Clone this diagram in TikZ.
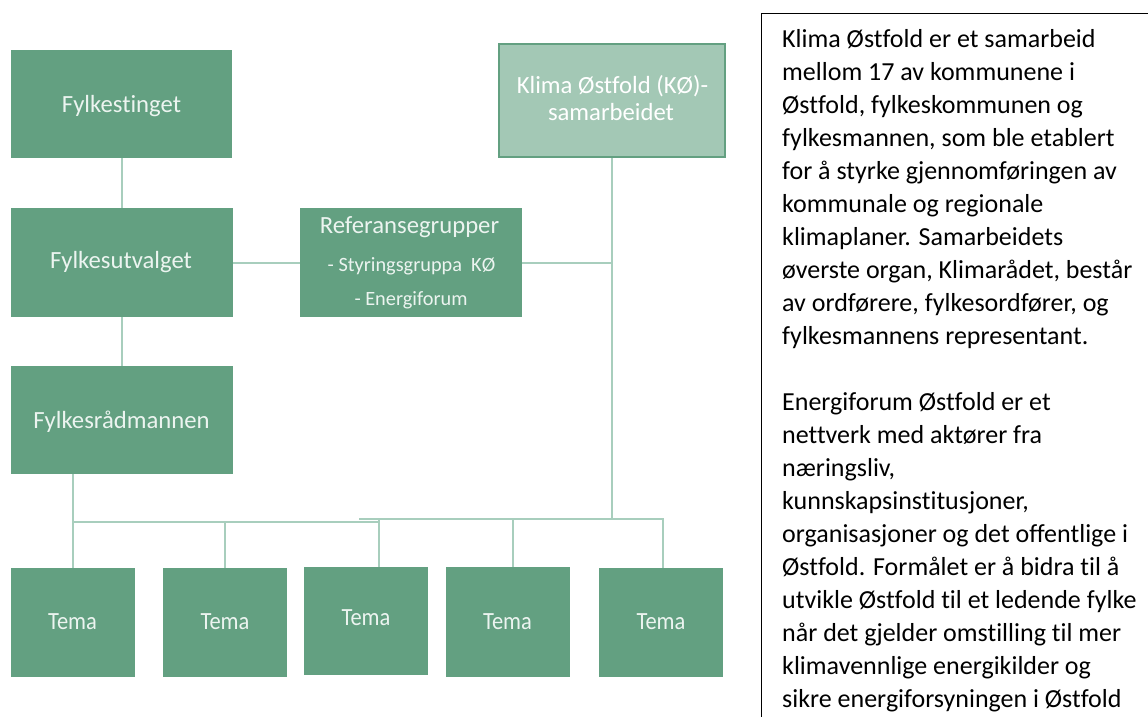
\documentclass[tikz,border=0pt]{standalone}
\usepackage{fontspec}
\setmainfont{Carlito}[Ligatures=NoCommon]
\usetikzlibrary{backgrounds}
\definecolor{boxg}{RGB}{99,160,129}
\definecolor{lightg}{RGB}{163,200,181}
\definecolor{lineg}{RGB}{168,206,189}
\definecolor{txtw}{RGB}{236,244,240}
\begin{document}
\begin{tikzpicture}[x=1pt,y=-1pt,
  box/.style={fill=boxg, draw=none, inner sep=0pt, outer sep=0pt},
  lbl/.style={text=txtw, inner sep=0pt, anchor=base, font=\fontsize{24.7}{27}\selectfont},
  sublbl/.style={lbl, font=\fontsize{20.3}{22}\selectfont},
  temalbl/.style={lbl, font=\fontsize{24.7}{27}\selectfont},
  conn/.style={draw=lineg, line width=2pt, line cap=rect}]
\useasboundingbox (0,0) rectangle (1148,716);
% left column
\node[box, minimum width=221, minimum height=108] (ft) at (121.5,104) {};
\node[lbl] (ftt) at (121.5,112) {Fylkestinget};
\node[box, minimum width=222, minimum height=109] (fu) at (122,262.5) {};
\node[lbl] (fut) at (121,268) {Fylkesutvalget};
\node[box, minimum width=222, minimum height=108] (fr) at (122,420) {};
\node[lbl] (frt) at (121.5,428) {Fylkesrådmannen};
% reference groups
\node[box, minimum width=222, minimum height=109] (ref) at (411,262.5) {};
\node[lbl] (reft) at (409.5,233) {Referansegrupper};
\node[sublbl] (ref2) at (411.5,271) {- Styringsgruppa\ \ KØ};
\node[sublbl] (ref3) at (411,305) {- Energiforum};
% Klima Østfold
\node[fill=lightg, draw=boxg, line width=2pt, inner sep=0pt, minimum width=226, minimum height=113] (kl) at (612,100.5) {};
\node[lbl, text=white] (klt1) at (612.5,93) {Klima Østfold (KØ)-};
\node[lbl, text=white] (klt2) at (611,120) {samarbeidet};
% Tema boxes
\node[box, minimum width=124, minimum height=109] (t1) at (72.5,622.5) {};
\node[temalbl] (t1t) at (72.5,629) {\scalebox{0.91}[1]{Tema}};
\node[box, minimum width=124, minimum height=109] (t2) at (225,622.5) {};
\node[temalbl] (t2t) at (225,629) {\scalebox{0.91}[1]{Tema}};
\node[box, minimum width=124, minimum height=108] (t3) at (366,621) {};
\node[temalbl] (t3t) at (366,625) {\scalebox{0.91}[1]{Tema}};
\node[box, minimum width=124, minimum height=110] (t4) at (507.5,622) {};
\node[temalbl] (t4t) at (507.5,629) {\scalebox{0.91}[1]{Tema}};
\node[box, minimum width=124, minimum height=109] (t5) at (661,622.5) {};
\node[temalbl] (t5t) at (661,629) {\scalebox{0.91}[1]{Tema}};
% bus coordinates
\coordinate (busA) at (72.5,522);
\coordinate (busB) at (360,519);
\coordinate (d3) at ([xshift=13pt]t3.north);
\coordinate (d4) at ([xshift=5.5pt]t4.north);
\coordinate (d5) at ([xshift=2pt]t5.north);
\begin{scope}[on background layer]
\fill[white] (0,0) rectangle (1148,716);
\draw[conn] (ft.south) -- (ft.south |- fu.north);
\draw[conn] (fu.south) -- (fu.south |- fr.north);
\draw[conn] (fu.east) -- (ref.west);
\draw[conn] (ref.east) -- (ref.east -| kl.south);
\draw[conn] (kl.south) -- (kl.south |- busB);
\draw[conn] (t1.north |- fr.south) -- (t1.north);
\draw[conn] (busA) -- (d3 |- busA);
\draw[conn] (t2.north |- busA) -- (t2.north);
\draw[conn] (busB) -- (d5 |- busB);
\draw[conn] (d3 |- busB) -- (d3);
\draw[conn] (d4 |- busB) -- (d4);
\draw[conn] (d5 |- busB) -- (d5);
\end{scope}
% text box
\node[draw=black, line width=1.3pt, anchor=north west, inner sep=0pt, minimum width=420, minimum height=760] (tb) at (761,13) {};
\node[anchor=north west, inner sep=0pt, align=left, font=\fontsize{26}{33}\selectfont] (tbt) at (782,23) {\rule{0pt}{24pt}Klima Østfold er et samarbeid\\
mellom 17 av kommunene i\\
Østfold, fylkeskommunen og\\
fylkesmannen, som ble etablert\\
for å styrke gjennomføringen av\\
kommunale og regionale\\
klimaplaner. Samarbeidets\\
øverste organ, Klimarådet, består\\
av ordførere, fylkesordfører, og\\
fylkesmannens representant.\\[33pt]
Energiforum Østfold er et\\
nettverk med aktører fra\\
næringsliv,\\
kunnskapsinstitusjoner,\\
organisasjoner og det offentlige i\\
Østfold. Formålet er å bidra til å\\
utvikle Østfold til et ledende fylke\\
når det gjelder omstilling til mer\\
klimavennlige energikilder og\\
sikre energiforsyningen i Østfold};
\end{tikzpicture}
\end{document}
